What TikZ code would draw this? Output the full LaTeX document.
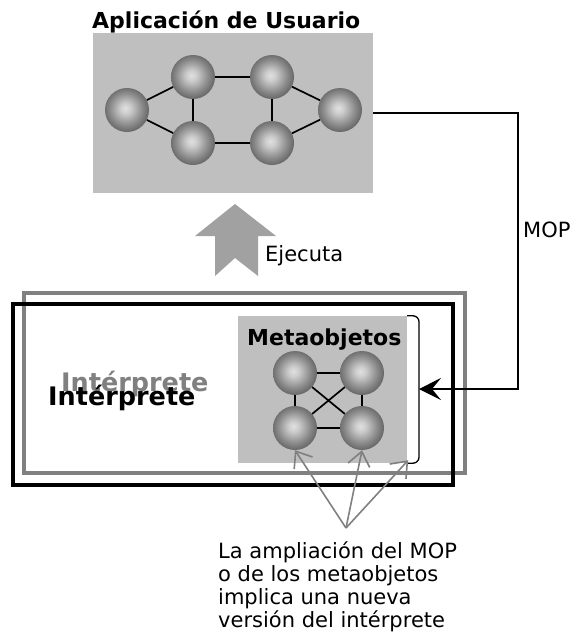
\documentclass[tikz,border=0pt]{standalone}
\usepackage{fontspec}
\setmainfont{DejaVu Sans}
\usepackage{xcolor}
\usetikzlibrary{positioning,arrows.meta}

\pgfdeclareradialshading{sphere}{\pgfpoint{-2bp}{2bp}}{color(0bp)=(black!12); color(6bp)=(black!20); color(18bp)=(black!45); color(26bp)=(black!60); color(50bp)=(black!66)}

\begin{document}
\begin{tikzpicture}[x=1pt, y=-1pt,
  sph/.style={circle, minimum size=44pt, inner sep=0pt, shading=sphere},
  panel/.style={fill=black!25, inner sep=0pt},
  frame/.style={draw, line width=4pt, inner sep=0pt},
  txt/.style={font=\fontsize{21}{22}\selectfont, inner sep=0pt},
  hdr/.style={font=\fontsize{22}{24}\selectfont\bfseries, inner sep=0pt},
  big/.style={font=\fontsize{25.5}{28}\selectfont\bfseries, inner sep=0pt},
  link/.style={line width=1.7pt},
  note/.style={-{Straight Barb[length=14pt, width=22pt]}, draw=black!50, line width=1.6pt}]
\useasboundingbox (0,0) rectangle (572,643);
% user application
\node[panel, minimum width=280pt, minimum height=160pt] (app) at (233,113) {};
\node[hdr, anchor=base west] (apptitle) at (92,28) {Aplicación de Usuario};
\node[sph] (a1) at (127,110) {};
\node[sph] (a2) at (193,77) {};
\node[sph] (a3) at (193,143) {};
\node[sph] (a4) at (272,77) {};
\node[sph] (a5) at (272,143) {};
\node[sph] (a6) at (340,110) {};
\draw[link] (a1) -- (a2) (a1) -- (a3) (a2) -- (a3) (a2) -- (a4)
  (a3) -- (a5) (a4) -- (a5) (a4) -- (a6) (a5) -- (a6);
% execution arrow
\fill[black!37] (235,204) -- (276,236) -- (258,236) -- (258,276) -- (235,258)
  -- (215,276) -- (215,236) -- (195,236) -- cycle;
\node[txt, anchor=base west] (exec) at (265,261) {Ejecuta};
% interpreter frames
\node[frame, draw=black!50, minimum width=441pt, minimum height=180pt] (interpB) at (244.5,383) {};
\node[big, text=black!50, anchor=base west] (ilblB) at (61,391) {Intérprete};
\node[frame, minimum width=440pt, minimum height=181pt] (interp) at (233,394.5) {};
\node[big, anchor=base west] (ilbl) at (48,405) {Intérprete};
% metaobjects
\node[panel, minimum width=169pt, minimum height=147pt] (meta) at (322.5,389.5) {};
\node[hdr, anchor=base west] (metatitle) at (247,345) {Metaobjetos};
\node[sph] (m1) at (295,373) {};
\node[sph] (m2) at (362,373) {};
\node[sph] (m3) at (295,428) {};
\node[sph] (m4) at (362,428) {};
\draw[link] (m1) -- (m2) (m3) -- (m4) (m1) -- (m3) (m2) -- (m4) (m1) -- (m4) (m2) -- (m3);
\coordinate (brk) at (419,389);
\draw[line width=1.3pt, rounded corners=6pt] (meta.north east) -| (brk) |- (meta.south east);
% MOP connector
\coordinate (mopturn) at (518,113);
\draw[line width=1.3pt, -{Stealth[length=22pt, width=22pt, inset=9pt]}] (app.east) -- (mopturn) |- (brk);
\node[txt, anchor=base west] (mop) at (523,237) {MOP};
% note on extending the MOP
\coordinate (fan) at (346,528);
\draw[note] (fan) -- (m3.south);
\draw[note] (fan) -- (m4.south);
\draw[note] (fan) -- ([shift={(1pt,3pt)}]meta.south east);
\node[txt, anchor=base west, align=left, font=\fontsize{21}{23}\selectfont] (note) at (218,627)
  {La ampliación del MOP\\o de los metaobjetos\\implica una nueva\\versión del intérprete};
\end{tikzpicture}
\end{document}
